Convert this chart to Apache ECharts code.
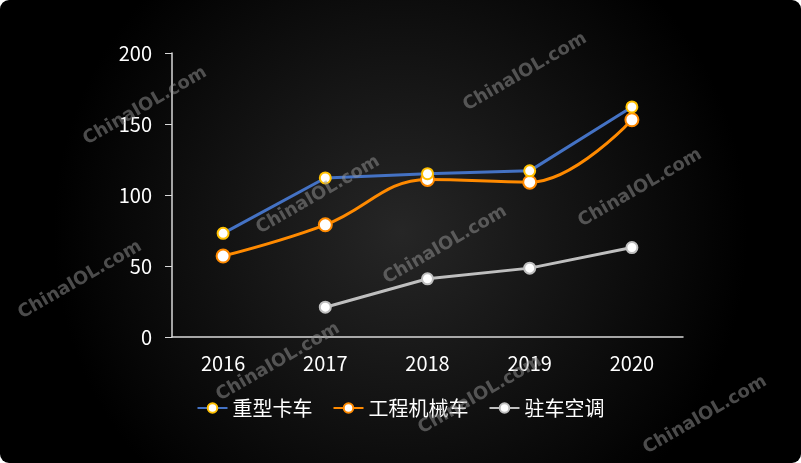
<!DOCTYPE html>
<html><head><meta charset="utf-8">
<script src="https://cdn.jsdelivr.net/npm/echarts@6/dist/echarts.min.js"></script>
<style>html,body{margin:0;padding:0;background:#fff;}#c{width:801px;height:463px;}</style>
</head><body><div id="c"></div>
<script>
var categories = ['2016','2017','2018','2019','2020'];
var heavyTruck = [73, 112, 115, 117, 162];
var engMachinery = [57, 79, 111, 109, 153];
var parkingAC = [null, 21, 41, 48.5, 63];
var seriesNames = ['重型卡车','工程机械车','驻车空调'];
var yTicks = [0, 50, 100, 150, 200];

var wm = [[145,106],[525,72],[318,195],[445,245],[640,188],[80,280],[278,362],[480,395],[705,415]];
var graphics = [{type:'rect', z:-10, shape:{x:0,y:0,width:801,height:463,r:9},
  style:{fill:new echarts.graphic.RadialGradient(0.5,0.5,0.75,[{offset:0,color:'#262626'},{offset:1,color:'#000000'}])}}];
wm.forEach(function(p){
  graphics.push({type:'text', x:p[0], y:p[1], rotation:Math.PI/6, z:100,
    style:{text:'ChinaIOL.com', fill:'rgba(150,150,150,0.5)', font:'bold 18px "DejaVu Sans", sans-serif', align:'center', verticalAlign:'middle'}});
});

var chart = echarts.init(document.getElementById('c'), null, {renderer:'canvas'});
chart.setOption({
  animation:false,
  backgroundColor:'transparent',
  graphic: graphics,
  grid:{left:172, right:118, top:53, bottom:126},
  legend:{
    bottom:40, left:'center', itemWidth:30, itemHeight:12, itemGap:20,
    textStyle:{color:'#fff', fontSize:20, fontFamily:'"Noto Sans CJK SC"'},
    data:seriesNames
  },
  xAxis:{
    type:'category', data:categories, boundaryGap:true,
    axisLine:{lineStyle:{color:'#d9d9d9', width:1.5}},
    axisTick:{inside:true, length:7, lineStyle:{color:'#d9d9d9'}},
    axisLabel:{color:'#fff', fontSize:20, margin:16, fontFamily:'"Noto Sans CJK SC"'}
  },
  yAxis:{
    type:'value', min:yTicks[0], max:yTicks[yTicks.length-1], interval:50,
    axisLine:{show:true, lineStyle:{color:'#d9d9d9', width:1.5}},
    axisTick:{show:true, length:7, lineStyle:{color:'#d9d9d9'}},
    splitLine:{show:false},
    axisLabel:{color:'#fff', fontSize:20, margin:20, fontFamily:'"Noto Sans CJK SC"'}
  },
  series:[
    {name:seriesNames[0], type:'line', data:heavyTruck, symbol:'circle', symbolSize:11,
     lineStyle:{color:'#4472C4', width:3}, itemStyle:{color:'#fff', borderColor:'#FFC000', borderWidth:2}, z:3},
    {name:seriesNames[1], type:'line', data:engMachinery, smooth:0.4, symbol:'circle', symbolSize:13,
     lineStyle:{color:'#FF8A00', width:3}, itemStyle:{color:'#fff', borderColor:'#FF8A00', borderWidth:2}, z:2},
    {name:seriesNames[2], type:'line', data:parkingAC, symbol:'circle', symbolSize:11,
     lineStyle:{color:'#BFBFBF', width:3}, itemStyle:{color:'#fff', borderColor:'#BFBFBF', borderWidth:2}, z:2}
  ]
});
</script></body></html>
